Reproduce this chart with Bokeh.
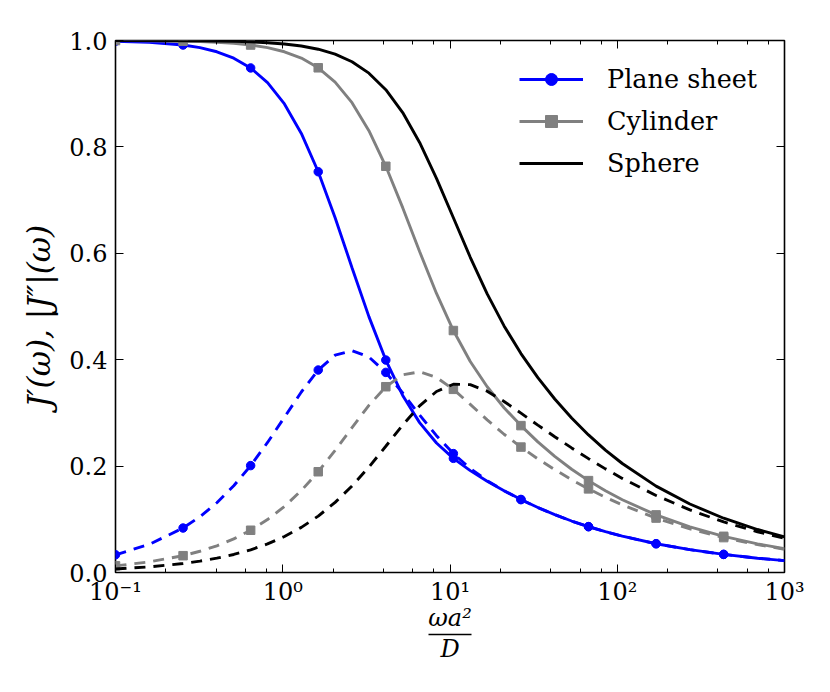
from bokeh.plotting import figure
from bokeh.models import (LogAxis, LinearAxis, Range1d, Legend, LegendItem,
                          CustomJSTickFormatter, FixedTicker, LogTicker,
                          NumeralTickFormatter)
from bokeh.embed import file_html
from bokeh.resources import INLINE

# ---- data ----
X = [0.1, 0.1592, 0.2535, 0.3199, 0.4037, 0.5094, 0.6428, 0.8111, 1.0235, 1.2916,
     1.6298, 2.0565, 2.5950, 3.2745, 4.1324, 5.2140, 6.5797, 8.3021, 10.476, 13.219,
     16.686, 21.049, 26.56, 33.515, 42.30, 53.367, 67.32, 84.974, 107.2, 170.7,
     271.8, 432.9, 689.3, 1000.0]

plane_re = [0.9987, 0.9966, 0.9915, 0.9866, 0.9788, 0.9668, 0.9484, 0.9208, 0.8808, 0.8253,
            0.7533, 0.6669, 0.5730, 0.4810, 0.3993, 0.3328, 0.2817, 0.2435, 0.2146, 0.1915,
            0.1717, 0.1538, 0.1373, 0.1222, 0.1087, 0.0968, 0.0862, 0.0767, 0.0683, 0.0541,
            0.0429, 0.0340, 0.0269, 0.0224]
plane_im = [0.0333, 0.0529, 0.0836, 0.1049, 0.1311, 0.1630, 0.2009, 0.2444, 0.2918, 0.3393,
            0.3806, 0.4085, 0.4171, 0.4051, 0.3761, 0.3374, 0.2960, 0.2572, 0.2235, 0.1956,
            0.1727, 0.1536, 0.1370, 0.1221, 0.1087, 0.0968, 0.0862, 0.0767, 0.0683, 0.0541,
            0.0429, 0.0340, 0.0269, 0.0224]

cyl_re = [0.9998, 0.9995, 0.9987, 0.9979, 0.9966, 0.9946, 0.9915, 0.9866, 0.9788, 0.9669,
          0.9487, 0.9217, 0.8831, 0.8305, 0.7636, 0.6858, 0.6034, 0.5245, 0.4548, 0.3967,
          0.3491, 0.3097, 0.2761, 0.2455, 0.2182, 0.1941, 0.1727, 0.1537, 0.1368, 0.1083,
          0.0858, 0.0680, 0.0539, 0.0447]
cyl_im = [0.0125, 0.0199, 0.0316, 0.0399, 0.0502, 0.0632, 0.0794, 0.0995, 0.1242, 0.1541,
          0.1894, 0.2294, 0.2723, 0.3141, 0.3492, 0.3715, 0.3772, 0.3667, 0.3443, 0.3161,
          0.2869, 0.2599, 0.2358, 0.2136, 0.1933, 0.1744, 0.1572, 0.1414, 0.1271, 0.1023,
          0.0821, 0.0656, 0.0524, 0.0437]

sph_re = [0.9999, 0.9998, 0.9996, 0.9994, 0.9990, 0.9984, 0.9974, 0.9959, 0.9934, 0.9896,
          0.9836, 0.9743, 0.9600, 0.9386, 0.9075, 0.8645, 0.8084, 0.7409, 0.6668, 0.5925,
          0.5237, 0.4635, 0.4115, 0.3662, 0.3261, 0.2904, 0.2586, 0.2301, 0.2049, 0.1624,
          0.1287, 0.1020, 0.0808, 0.0671]
sph_im = [0.0067, 0.0106, 0.0169, 0.0213, 0.0269, 0.0339, 0.0427, 0.0537, 0.0676, 0.0848,
          0.1060, 0.1318, 0.1626, 0.1982, 0.2373, 0.2772, 0.3132, 0.3402, 0.3538, 0.3531,
          0.3408, 0.3215, 0.2995, 0.2770, 0.2552, 0.2342, 0.2140, 0.1948, 0.1769, 0.1448,
          0.1176, 0.0950, 0.0765, 0.0641]

# sample points that carry a marker
MARK_IDX = [0, 2, 6, 10, 14, 18, 22, 26, 29, 31]

series_names = ["Plane sheet", "Cylinder", "Sphere"]
XTICK_LABELS = ["10\u207b\u00b9", "10\u2070", "10\u00b9", "10\u00b2", "10\u00b3"]
YTICKS = [0.0, 0.2, 0.4, 0.6, 0.8, 1.0]
Y_LABEL = "J\u2032(\u03c9),   |J\u2033|(\u03c9)"
X_LABEL_NUM = "\u03c9a\u00b2"
X_LABEL_DEN = "D"

BLUE = "#0000ff"
GRAY = "#808080"
BLACK = "#000000"
FONT = "DejaVu Serif"
LW = 2.9
DASH = "11 8"
MS = 8.5

p = figure(width=814, height=676, x_axis_type="log",
           x_range=Range1d(0.1, 1000), y_range=Range1d(0, 1),
           output_backend="svg", toolbar_location=None,
           min_border_left=115, min_border_right=30,
           min_border_top=40, min_border_bottom=104)
p.background_fill_color = "white"
p.border_fill_color = "white"
p.xgrid.visible = False
p.ygrid.visible = False
p.outline_line_color = "black"
p.outline_line_width = 1.6
p.outline_line_alpha = 1.0

xt = LogTicker()
yt = FixedTicker(ticks=YTICKS)

xb = p.xaxis[0]
xb.ticker = xt
xb.formatter = CustomJSTickFormatter(args=dict(labels=XTICK_LABELS), code="""
const i = Math.round(Math.log10(tick)) + 1;
return (i >= 0 && i < labels.length) ? labels[i] : '';
""")
yl = p.yaxis[0]
yl.ticker = yt
yl.formatter = NumeralTickFormatter(format="0.0")

blank = CustomJSTickFormatter(code="return '';")
top = LogAxis(ticker=xt, formatter=blank)
right = LinearAxis(ticker=yt, formatter=blank)
p.add_layout(top, "above")
p.add_layout(right, "right")

for ax in [xb, top]:
    ax.major_tick_in = 8
    ax.major_tick_out = 0
    ax.minor_tick_in = 4
    ax.minor_tick_out = 0
for ax in [yl, right]:
    ax.major_tick_in = 8
    ax.major_tick_out = 0
    ax.minor_tick_line_color = None
for ax in [xb, top, yl, right]:
    ax.axis_line_color = None
    ax.major_tick_line_color = "black"
    ax.major_tick_line_width = 1
    ax.minor_tick_line_width = 1
    ax.major_label_text_font = FONT
    ax.major_label_text_font_size = "24px"
    ax.major_label_text_color = "black"
top.major_label_text_font_size = "1px"
right.major_label_text_font_size = "1px"
xb.major_label_standoff = 5
yl.major_label_standoff = 8

yl.axis_label = Y_LABEL
yl.axis_label_text_font = FONT
yl.axis_label_text_font_style = "italic"
yl.axis_label_text_font_size = "31px"
yl.axis_label_text_color = "black"
yl.axis_label_standoff = 9

# x-axis label written as a fraction: numerator on the main axis,
# fraction bar = line of a short extra axis, denominator = its label
xb.axis_label = X_LABEL_NUM
xb.axis_label_text_font = FONT
xb.axis_label_text_font_style = "italic"
xb.axis_label_text_font_size = "24px"
xb.axis_label_text_color = "black"
xb.axis_label_standoff = -5

den = LogAxis(ticker=FixedTicker(ticks=[]), formatter=blank, bounds=(7.39, 13.37))
den.axis_line_color = "black"
den.axis_line_width = 1.5
den.major_tick_line_color = None
den.minor_tick_line_color = None
den.major_label_text_font_size = "1px"
den.axis_label = X_LABEL_DEN
den.axis_label_text_font = FONT
den.axis_label_text_font_style = "italic"
den.axis_label_text_font_size = "24px"
den.axis_label_text_color = "black"
den.axis_label_standoff = 0
p.add_layout(den, "below")

def marks(vals):
    return [vals[i] for i in MARK_IDX]

MX = marks(X)

r_pl = p.line(X, plane_re, line_color=BLUE, line_width=LW)
r_pl_m = p.scatter(MX, marks(plane_re), marker="circle", size=MS, color=BLUE)
p.line(X, plane_im, line_color=BLUE, line_width=LW, line_dash=DASH)
p.scatter(MX, marks(plane_im), marker="circle", size=MS, color=BLUE)

r_cy = p.line(X, cyl_re, line_color=GRAY, line_width=LW)
r_cy_m = p.scatter(MX, marks(cyl_re), marker="square", size=MS, color=GRAY)
p.line(X, cyl_im, line_color=GRAY, line_width=LW, line_dash=DASH)
p.scatter(MX, marks(cyl_im), marker="square", size=MS, color=GRAY)

r_sp = p.line(X, sph_re, line_color=BLACK, line_width=LW)
p.line(X, sph_im, line_color=BLACK, line_width=LW, line_dash=DASH)

legend = Legend(items=[
    LegendItem(label=series_names[0], renderers=[r_pl, r_pl_m]),
    LegendItem(label=series_names[1], renderers=[r_cy, r_cy_m]),
    LegendItem(label=series_names[2], renderers=[r_sp]),
], location=(404, 394))
legend.padding = 0
legend.margin = 0
legend.border_line_color = None
legend.background_fill_alpha = 0
legend.label_text_font = FONT
legend.label_text_font_size = "25.5px"
legend.label_text_color = "black"
legend.glyph_width = 64
legend.glyph_height = 30
legend.label_height = 30
legend.label_standoff = 24
legend.spacing = 12
p.add_layout(legend)

open("out.html", "w").write(file_html(p, INLINE))
